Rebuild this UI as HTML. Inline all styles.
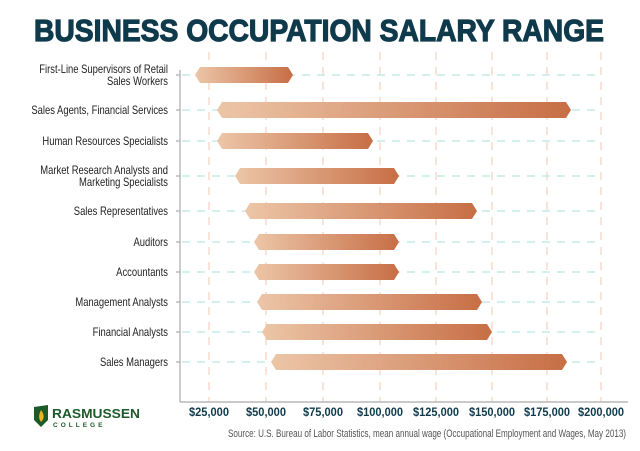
<!DOCTYPE html>
<html><head><meta charset="utf-8"><style>
html,body{margin:0;padding:0;background:#fff;}
svg{display:block;}
</style></head><body>
<svg width="640" height="451" viewBox="0 0 640 451" xmlns="http://www.w3.org/2000/svg">
<defs>
<linearGradient id="g" x1="0" x2="1" y1="0" y2="0">
<stop offset="0" stop-color="#ecc6a8"/><stop offset="1" stop-color="#c76e45"/>
</linearGradient>
</defs>
<text x="319" y="41" text-anchor="middle" font-family="Liberation Sans, sans-serif" font-weight="bold" font-size="31" fill="#0f3a4c" stroke="#0f3a4c" stroke-width="1.2" textLength="570" lengthAdjust="spacingAndGlyphs">BUSINESS OCCUPATION SALARY RANGE</text>
<g stroke="#f5d0c0" stroke-width="1.2" stroke-dasharray="8,7">
<line x1="209" y1="52" x2="209" y2="402"/><line x1="266" y1="52" x2="266" y2="402"/>
<line x1="323" y1="52" x2="323" y2="402"/><line x1="380" y1="52" x2="380" y2="402"/>
<line x1="436" y1="52" x2="436" y2="402"/><line x1="492" y1="52" x2="492" y2="402"/>
<line x1="547" y1="52" x2="547" y2="402"/><line x1="601" y1="52" x2="601" y2="402"/>
</g>
<g stroke="#b9e6e0" stroke-width="1.2" stroke-dasharray="8,7">
<line x1="182" y1="75" x2="602" y2="75"/><line x1="182" y1="110" x2="602" y2="110"/>
<line x1="182" y1="141" x2="602" y2="141"/><line x1="182" y1="176" x2="602" y2="176"/>
<line x1="182" y1="211" x2="602" y2="211"/><line x1="182" y1="242" x2="602" y2="242"/>
<line x1="182" y1="272" x2="602" y2="272"/><line x1="182" y1="302" x2="602" y2="302"/>
<line x1="182" y1="332" x2="602" y2="332"/><line x1="182" y1="362" x2="602" y2="362"/>
</g>
<g stroke="#aaa" stroke-width="1.2">
<line x1="180" y1="70" x2="180" y2="402"/><line x1="180" y1="402" x2="628" y2="402"/>
<line x1="176" y1="75" x2="180" y2="75"/><line x1="176" y1="110" x2="180" y2="110"/>
<line x1="176" y1="141" x2="180" y2="141"/><line x1="176" y1="176" x2="180" y2="176"/>
<line x1="176" y1="211" x2="180" y2="211"/><line x1="176" y1="242" x2="180" y2="242"/>
<line x1="176" y1="272" x2="180" y2="272"/><line x1="176" y1="302" x2="180" y2="302"/>
<line x1="176" y1="332" x2="180" y2="332"/><line x1="176" y1="362" x2="180" y2="362"/>
</g>
<g fill="url(#g)">
<polygon points="200,67 288,67 293,75 288,83 200,83 195,75"/>
<polygon points="222,102 566,102 571,110 566,118 222,118 217,110"/>
<polygon points="222,133 368,133 373,141 368,149 222,149 217,141"/>
<polygon points="240,168 394,168 399,176 394,184 240,184 235,176"/>
<polygon points="250,203 472,203 477,211 472,219 250,219 245,211"/>
<polygon points="259,234 394,234 399,242 394,250 259,250 254,242"/>
<polygon points="259,264 394,264 399,272 394,280 259,280 254,272"/>
<polygon points="262,294 477,294 482,302 477,310 262,310 257,302"/>
<polygon points="267,324 487,324 492,332 487,340 267,340 262,332"/>
<polygon points="276,354 562,354 567,362 562,370 276,370 271,362"/>
</g>
<g font-family="Liberation Sans, sans-serif" font-size="11.5" fill="#222" text-anchor="end">
<g transform="translate(168,0) scale(0.82,1)">
<text x="0" y="73">First-Line Supervisors of Retail</text>
<text x="0" y="85">Sales Workers</text>
<text x="0" y="114">Sales Agents, Financial Services</text>
<text x="0" y="145">Human Resources Specialists</text>
<text x="0" y="174">Market Research Analysts and</text>
<text x="0" y="186">Marketing Specialists</text>
<text x="0" y="215">Sales Representatives</text>
<text x="0" y="246">Auditors</text>
<text x="0" y="276">Accountants</text>
<text x="0" y="306">Management Analysts</text>
<text x="0" y="336">Financial Analysts</text>
<text x="0" y="366">Sales Managers</text>
</g>
</g>
<g font-family="Liberation Sans, sans-serif" font-size="12" font-weight="bold" fill="#0f3a4c" text-anchor="middle">
<text x="209" y="416" textLength="40" lengthAdjust="spacingAndGlyphs">$25,000</text>
<text x="266" y="416" textLength="40" lengthAdjust="spacingAndGlyphs">$50,000</text>
<text x="323" y="416" textLength="40" lengthAdjust="spacingAndGlyphs">$75,000</text>
<text x="380" y="416" textLength="46" lengthAdjust="spacingAndGlyphs">$100,000</text>
<text x="436" y="416" textLength="46" lengthAdjust="spacingAndGlyphs">$125,000</text>
<text x="492" y="416" textLength="46" lengthAdjust="spacingAndGlyphs">$150,000</text>
<text x="547" y="416" textLength="46" lengthAdjust="spacingAndGlyphs">$175,000</text>
<text x="601" y="416" textLength="46" lengthAdjust="spacingAndGlyphs">$200,000</text>
</g>
<text x="626" y="437" text-anchor="end" font-family="Liberation Sans, sans-serif" font-size="11" fill="#555" textLength="398" lengthAdjust="spacingAndGlyphs">Source: U.S. Bureau of Labor Statistics, mean annual wage (Occupational Employment and Wages, May 2013)</text>
<path d="M34,407 L48,405 L48,420 L41,427 L34,420 Z" fill="#1d5a2a"/>
<path d="M41,410 C44,414 45,418 41,422 C38,418 39,414 41,410Z" fill="#f2b01e"/>
<text x="52" y="418" font-family="Liberation Sans, sans-serif" font-weight="bold" font-size="13" fill="#1d5a2a" textLength="88" lengthAdjust="spacingAndGlyphs">RASMUSSEN</text>
<text x="53" y="427" font-family="Liberation Sans, sans-serif" font-weight="bold" font-size="6.5" fill="#1d5a2a" letter-spacing="3">COLLEGE</text>
</svg>
</body></html>
